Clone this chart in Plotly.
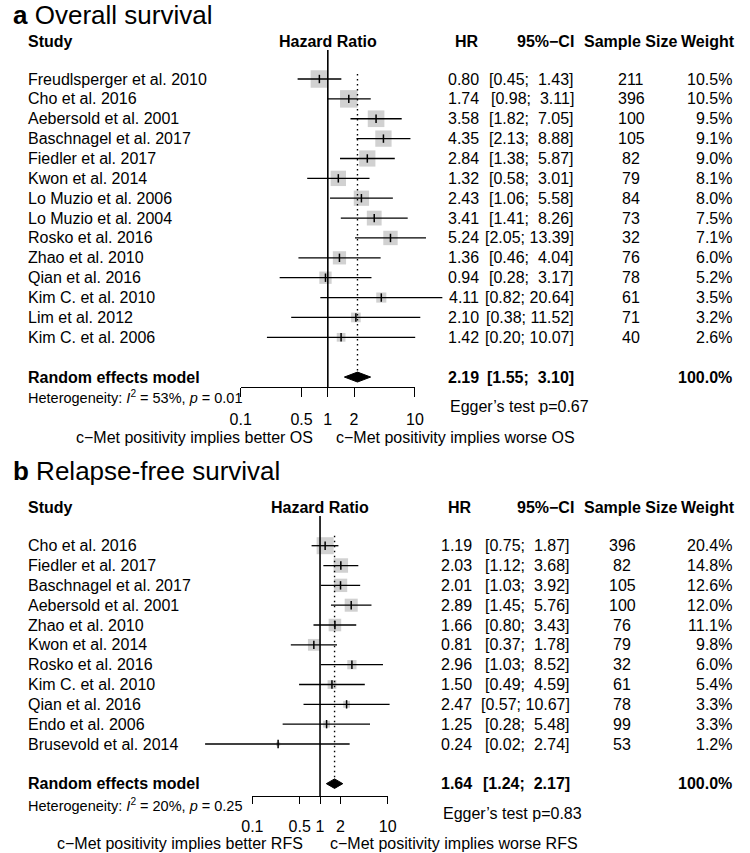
import math
import plotly.graph_objects as go

# ---------------- data ----------------
os_study = ["Freudlsperger et al. 2010", "Cho et al. 2016", "Aebersold et al. 2001",
            "Baschnagel et al. 2017", "Fiedler et al. 2017", "Kwon et al. 2014",
            "Lo Muzio et al. 2006", "Lo Muzio et al. 2004", "Rosko et al. 2016",
            "Zhao et al. 2010", "Qian et al. 2016", "Kim C. et al. 2010",
            "Lim et al. 2012", "Kim C. et al. 2006"]
os_hr = [0.80, 1.74, 3.58, 4.35, 2.84, 1.32, 2.43, 3.41, 5.24, 1.36, 0.94, 4.11, 2.10, 1.42]
os_lo = [0.45, 0.98, 1.82, 2.13, 1.38, 0.58, 1.06, 1.41, 2.05, 0.46, 0.28, 0.82, 0.38, 0.20]
os_hi = [1.43, 3.11, 7.05, 8.88, 5.87, 3.01, 5.58, 8.26, 13.39, 4.04, 3.17, 20.64, 11.52, 10.07]
os_n = [211, 396, 100, 105, 82, 79, 84, 73, 32, 76, 78, 61, 71, 40]
os_w = [10.5, 10.5, 9.5, 9.1, 9.0, 8.1, 8.0, 7.5, 7.1, 6.0, 5.2, 3.5, 3.2, 2.6]
os_pooled = [2.19, 1.55, 3.10]
os_pooled_w = 100.0
os_i2 = 53
os_p = "0.01"
os_egger = "0.67"

rfs_study = ["Cho et al. 2016", "Fiedler et al. 2017", "Baschnagel et al. 2017",
             "Aebersold et al. 2001", "Zhao et al. 2010", "Kwon et al. 2014",
             "Rosko et al. 2016", "Kim C. et al. 2010", "Qian et al. 2016",
             "Endo et al. 2006", "Brusevold et al. 2014"]
rfs_hr = [1.19, 2.03, 2.01, 2.89, 1.66, 0.81, 2.96, 1.50, 2.47, 1.25, 0.24]
rfs_lo = [0.75, 1.12, 1.03, 1.45, 0.80, 0.37, 1.03, 0.49, 0.57, 0.28, 0.02]
rfs_hi = [1.87, 3.68, 3.92, 5.76, 3.43, 1.78, 8.52, 4.59, 10.67, 5.48, 2.74]
rfs_n = [396, 82, 105, 100, 76, 79, 32, 61, 78, 99, 53]
rfs_w = [20.4, 14.8, 12.6, 12.0, 11.1, 9.8, 6.0, 5.4, 3.3, 3.3, 1.2]
rfs_pooled = [1.64, 1.24, 2.17]
rfs_pooled_w = 100.0
rfs_i2 = 20
rfs_p = "0.25"
rfs_egger = "0.83"

tick_vals = [0.1, 0.5, 1, 2, 10]
tick_text = ["0.1", "0.5", "1", "2", "10"]

# ---------------- layout constants ----------------
W, H = 750, 853
FONT = "Liberation Sans"
BOX_COLOR = "#BEBEBE"
NB = "\u00a0"

fig = go.Figure()
annotations = []


def add_text(text, xpx, y, yref, xanchor="left", size=16, ypx=False):
    if ypx:
        y = 1 - y / H
        yref = "paper"
    annotations.append(dict(text=text, x=xpx / W, xref="paper", y=y, yref=yref,
                            xanchor=xanchor, yanchor="middle", showarrow=False,
                            borderpad=0,
                            font=dict(family=FONT, size=size, color="black")))


def fmt_ci(lo, hi, wlo, whi):
    a = f"{lo:.2f}"
    b = f"{hi:.2f}"
    return "[" + NB * (wlo - len(a)) + a + ";" + NB + NB * (whi - len(b)) + b + "]"


def panel(cfg, letter, title, study, hr, lo, hi, n, w, pooled, pooled_w, i2, p, egger, outcome):
    xd, yd, xt = cfg["xd"], cfg["yd"], cfg["xt"]
    c, s, row0, step = cfg["c"], cfg["s"], cfg["row0"], cfg["step"]
    yref = yd
    k = len(study)
    rows = list(range(k))
    rrow = k + 1
    wmax = max(w)
    wlo = max(len(f"{v:.2f}") for v in lo + [pooled[1]])
    whi = max(len(f"{v:.2f}") for v in hi + [pooled[2]])

    # axes
    fig.layout[cfg["xd_name"]] = dict(type="log", domain=[0, 1],
                                       range=[(0 - c) / s, (W - c) / s], visible=False)
    fig.layout[cfg["yd_name"]] = dict(domain=[0, 1], range=[(H - row0) / step, (0 - row0) / step],
                                       visible=False)
    fig.layout[cfg["xt_name"]] = dict(type="log", domain=[(c - s) / W, (c + s) / W], range=[-1, 1],
                                       anchor="free", position=1 - cfg["axis_px"] / H,
                                       showline=True, linecolor="black", linewidth=1.3,
                                       ticks="outside", ticklen=cfg["ticklen"], tickwidth=1.3,
                                       tickcolor="black", tickvals=tick_vals, ticktext=tick_text,
                                       tickfont=dict(family=FONT, size=16, color="black"),
                                       ticklabelstandoff=cfg["standoff"],
                                       showgrid=False, zeroline=False)

    # null line (on the tick axis)
    fig.add_trace(go.Scatter(x=[1, 1], y=[(cfg["null_top"] - row0) / step, (cfg["axis_px"] - row0) / step],
                             xaxis=xt, yaxis=yd, mode="lines",
                             line=dict(color="black", width=1.6), hoverinfo="skip", showlegend=False))
    # dotted pooled line
    dh = cfg["dh"]
    fig.add_trace(go.Scatter(x=[pooled[0], pooled[0]], y=[cfg["dot_top"], rrow - dh],
                             xaxis=xt, yaxis=yd, mode="lines",
                             line=dict(color="black", width=1.4, dash="1.5px,3.5px"),
                             hoverinfo="skip", showlegend=False))
    # boxes
    fig.add_trace(go.Scatter(x=hr, y=rows, xaxis=xd, yaxis=yd, mode="markers",
                             marker=dict(symbol="square", color=BOX_COLOR,
                                         size=[cfg["box_max"] * math.sqrt(v / wmax) for v in w],
                                         line=dict(width=0)),
                             hoverinfo="skip", showlegend=False))
    # CI lines
    cx, cy = [], []
    for r, a, b in zip(rows, lo, hi):
        cx += [a, b, None]
        cy += [r, r, None]
    fig.add_trace(go.Scatter(x=cx, y=cy, xaxis=xd, yaxis=yd, mode="lines",
                             line=dict(color="black", width=1.3), hoverinfo="skip", showlegend=False))
    # estimate ticks
    fig.add_trace(go.Scatter(x=hr, y=rows, xaxis=xd, yaxis=yd, mode="markers",
                             marker=dict(symbol="line-ns", size=6, color="black",
                                         line=dict(width=1.5, color="black")),
                             hoverinfo="skip", showlegend=False))
    # diamond
    fig.add_trace(go.Scatter(x=[pooled[1], pooled[0], pooled[2], pooled[0], pooled[1]],
                             y=[rrow, rrow - dh, rrow, rrow + dh, rrow],
                             xaxis=xd, yaxis=yd, mode="lines", fill="toself",
                             fillcolor="black", line=dict(color="black", width=1),
                             hoverinfo="skip", showlegend=False))

    # title & headers
    add_text(f"<b>{letter}</b> {title}", 1, cfg["title_px"], None, size=26, ypx=True)
    hp = cfg["header_px"]
    add_text("<b>Study</b>", 16, hp, None, ypx=True)
    add_text("<b>Hazard Ratio</b>", c, hp, None, xanchor="center", ypx=True)
    add_text("<b>HR</b>", cfg["hr_head"], hp, None, xanchor="right", ypx=True)
    add_text("<b>95%\u2212CI</b>", cfg["ci_head"], hp, None, xanchor="right", ypx=True)
    add_text("<b>Sample Size</b>", cfg["n_head"], hp, None, xanchor="center", ypx=True)
    add_text("<b>Weight</b>", cfg["w_head"], hp, None, xanchor="right", ypx=True)

    for r in rows:
        add_text(study[r], 16, r, yref)
        add_text(f"{hr[r]:.2f}", cfg["col_hr"], r, yref, xanchor="right")
        add_text(fmt_ci(lo[r], hi[r], wlo, whi), cfg["col_ci"], r, yref, xanchor="right")
        add_text(str(n[r]), cfg["col_n"], r, yref, xanchor="center")
        add_text(f"{w[r]:.1f}%", cfg["col_w"], r, yref, xanchor="right")

    add_text("<b>Random effects model</b>", 16, rrow, yref)
    add_text(f"<b>{pooled[0]:.2f}</b>", cfg["col_hr"], rrow, yref, xanchor="right")
    add_text("<b>" + fmt_ci(pooled[1], pooled[2], wlo, whi) + "</b>", cfg["col_ci"], rrow, yref,
             xanchor="right")
    add_text(f"<b>{pooled_w:.1f}%</b>", cfg["col_w"], rrow, yref, xanchor="right")

    add_text(f"Heterogeneity: <i>I</i><sup>2</sup> = {i2}%, <i>p</i> = {p}", 16, cfg["het_px"], None,
             size=14.5, ypx=True)
    add_text(f"Egger\u2019s test p={egger}", cfg["egger_x"], cfg["egger_px"], None, ypx=True)
    add_text(f"c\u2212Met positivity implies better {outcome}", cfg["left_lab"], cfg["bottom_px"], None,
             xanchor="right", ypx=True)
    add_text(f"c\u2212Met positivity implies worse {outcome}", cfg["right_lab"], cfg["bottom_px"], None,
             xanchor="left", ypx=True)


cfg_a = dict(xd="x", yd="y", xt="x3", xd_name="xaxis", yd_name="yaxis", xt_name="xaxis3",
             c=325.5, s=89.5, row0=79, step=19.87, null_top=50, axis_px=387.3, ticklen=9,
             standoff=8, box_max=17.5, dh=0.25, dot_top=-0.25, title_px=15, header_px=41.7,
             het_px=397, egger_px=406.7, egger_x=450, bottom_px=437, left_lab=311, right_lab=333,
             col_hr=482, col_ci=579, col_n=637, col_w=742, hr_head=482, ci_head=579,
             n_head=636, w_head=745)
cfg_b = dict(xd="x2", yd="y2", xt="x4", xd_name="xaxis2", yd_name="yaxis2", xt_name="xaxis4",
             c=317.5, s=69.5, row0=545.7, step=19.83, null_top=516, axis_px=796, ticklen=7.3,
             standoff=8, box_max=17, dh=0.24, dot_top=-0.5, title_px=471, header_px=507,
             het_px=805, egger_px=813, egger_x=443, bottom_px=843.8, left_lab=301, right_lab=327,
             col_hr=475, col_ci=575, col_n=628, col_w=742, hr_head=475, ci_head=579,
             n_head=636, w_head=745)

panel(cfg_a, "a", "Overall survival", os_study, os_hr, os_lo, os_hi, os_n, os_w,
      os_pooled, os_pooled_w, os_i2, os_p, os_egger, "OS")
panel(cfg_b, "b", "Relapse-free survival", rfs_study, rfs_hr, rfs_lo, rfs_hi, rfs_n, rfs_w,
      rfs_pooled, rfs_pooled_w, rfs_i2, rfs_p, rfs_egger, "RFS")

fig.update_layout(width=W, height=H, margin=dict(l=0, r=0, t=0, b=0),
                  paper_bgcolor="white", plot_bgcolor="rgba(0,0,0,0)",
                  showlegend=False, annotations=annotations,
                  font=dict(family=FONT, size=16, color="black"))

fig.write_html("out.html", config={"displayModeBar": False},
               post_script="document.body.style.margin='0px';document.body.style.overflow='hidden';")
